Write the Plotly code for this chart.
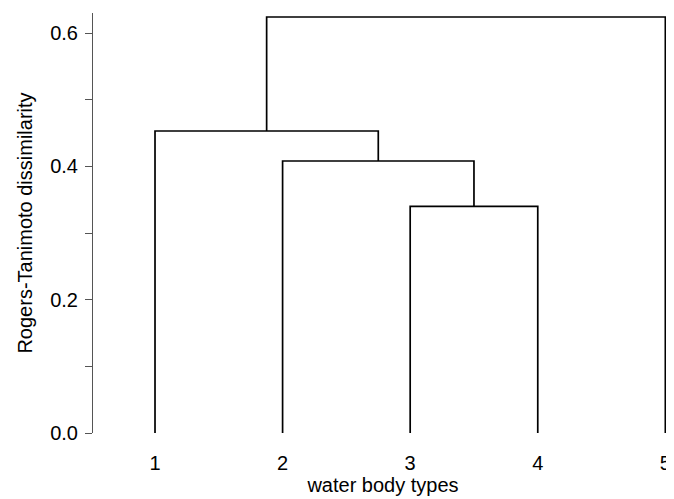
import plotly.graph_objects as go

# Data
leaf_labels = ["1", "2", "3", "4", "5"]
leaf_positions = [1, 2, 3, 4, 5]
# merges: (left cluster, right cluster, height)
merge_left = ["3", "2", "1", "1234"]
merge_right = ["4", "34", "234", "5"]
merge_height = [0.340, 0.408, 0.453, 0.624]
y_ticks = [0.0, 0.2, 0.4, 0.6]

pos = {lab: p for lab, p in zip(leaf_labels, leaf_positions)}
hgt = {lab: 0.0 for lab in leaf_labels}

xs, ys = [], []
for a, b, h in zip(merge_left, merge_right, merge_height):
    xa, xb = pos[a], pos[b]
    ya, yb = hgt[a], hgt[b]
    xs += [xa, xa, xb, xb, None]
    ys += [ya, h, h, yb, None]
    key = a + b
    pos[key] = (xa + xb) / 2
    hgt[key] = h

fig = go.Figure()
fig.add_trace(go.Scatter(x=xs, y=ys, mode="lines",
                         line=dict(color="black", width=1.7),
                         hoverinfo="skip", showlegend=False))

font = dict(family="Liberation Sans, Arial, sans-serif", size=20, color="black")

# page body has an 8px margin; figure is offset by (8, 8)
fig.update_layout(
    width=666, height=491,
    margin=dict(l=85, r=1, t=5, b=66),
    plot_bgcolor="white", paper_bgcolor="white",
    font=font,
    xaxis=dict(range=[0.514, 5.06], tickvals=leaf_positions, ticktext=leaf_labels,
               showline=False, showgrid=False, zeroline=False,
               ticks="outside", ticklen=12, tickcolor="rgba(0,0,0,0)",
               title=dict(text="water body types", font=font, standoff=0),
               automargin=False),
    yaxis=dict(range=[0, 0.63], tickvals=y_ticks, ticktext=[f"{v:.1f}" for v in y_ticks],
               showline=True, linecolor="#555", linewidth=1,
               ticks="outside", ticklen=7, tickcolor="#555", tickwidth=1,
               ticklabelstandoff=3,
               minor=dict(ticks="outside", dtick=0.1, tick0=0, ticklen=7,
                          tickcolor="#555", tickwidth=1, showgrid=False),
               showgrid=False, zeroline=False,
               title=dict(text="Rogers-Tanimoto dissimilarity", font=font, standoff=12),
               automargin=False),
)

fig.write_html("out.html")
